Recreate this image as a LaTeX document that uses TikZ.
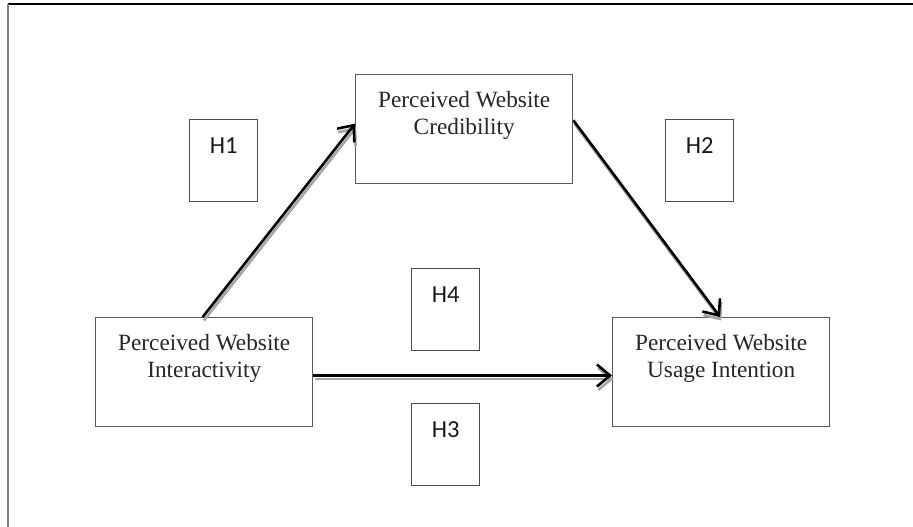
\documentclass[tikz,border=0pt]{standalone}
\usepackage{fontspec}
\setmainfont{Liberation Serif}
\newfontfamily\hfont{Carlito}
\usetikzlibrary{arrows.meta,calc}
\begin{document}
\begin{tikzpicture}[x=1pt,y=1pt,
  box/.style={draw=black!65,line width=1.4pt,minimum width=217pt,minimum height=109pt,inner sep=0pt,anchor=north west},
  hbox/.style={draw=black!70,line width=1.3pt,minimum width=68pt,minimum height=82pt,inner sep=0pt,anchor=north west},
  boxtext/.style={font=\fontsize{23.3}{27}\selectfont,align=center,anchor=base,inner sep=0pt,text=black!85},
  htext/.style={font=\hfont\fontsize{24.5}{27}\selectfont,anchor=base,inner sep=0pt,text=black!90},
  arr/.style={line width=2.6pt,black,-{Straight Barb[length=13pt,width=22pt,line width=2.6pt]}},
  shadowarr/.style={line width=2.6pt,black!35,-{Straight Barb[length=13pt,width=22pt,line width=2.6pt]},transform canvas={shift={(1.2pt,-3.5pt)}}}
]
\useasboundingbox (0,0) rectangle (913,-527);
% frame
\coordinate (fTL) at (7.5,-4.5);
\coordinate (fTR) at (913,-4.5);
\coordinate (fBL) at (7.5,-527);
\draw[line width=2pt,black] (fTL) -- (fTR);
\draw[line width=2pt,black!50] (fTL) -- (fBL);
% main boxes
\node[box] (cred) at (355,-74) {};
\node[box] (inter) at (95,-317) {};
\node[box] (usage) at (612,-317) {};
\node[boxtext] (credt) at ($(cred.north)+(0,-60)$) {Perceived Website\\Credibility};
\node[boxtext] (intert) at ($(inter.north)+(0,-60)$) {Perceived Website\\Interactivity};
\node[boxtext] (usaget) at ($(usage.north)+(0,-60)$) {Perceived Website\\Usage Intention};
% hypothesis boxes
\node[hbox] (h1) at (189,-119) {};
\node[hbox] (h2) at (665,-119) {};
\node[hbox] (h4) at (411,-268) {};
\node[hbox] (h3) at (411,-403) {};
\node[htext] (h1t) at ($(h1.north)+(0,-34)$) {H1};
\node[htext] (h2t) at ($(h2.north)+(0,-34)$) {H2};
\node[htext] (h4t) at ($(h4.north)+(0,-34)$) {H4};
\node[htext] (h3t) at ($(h3.north)+(0,-34)$) {H3};
% arrow end points
\coordinate (a1s) at ($(inter.north west)!0.493!(inter.north east)$);
\coordinate (a1e) at ($(cred.north west)!0.45!(cred.south west)$);
\coordinate (a2s) at ($(cred.north east)!0.42!(cred.south east)$);
\coordinate (a2e) at ($(usage.north west)!0.495!(usage.north east)$);
\coordinate (a3s) at ($(inter.north east)!0.53!(inter.south east)$);
\coordinate (a3e) at ($(usage.north west)!0.53!(usage.south west)$);
% shadows
\draw[shadowarr] (a1s) -- (a1e);
\draw[shadowarr] (a2s) -- (a2e);
\draw[shadowarr] (a3s) -- (a3e);
% arrows
\draw[arr] (a1s) -- (a1e);
\draw[arr] (a2s) -- (a2e);
\draw[arr] (a3s) -- (a3e);
\end{tikzpicture}
\end{document}
